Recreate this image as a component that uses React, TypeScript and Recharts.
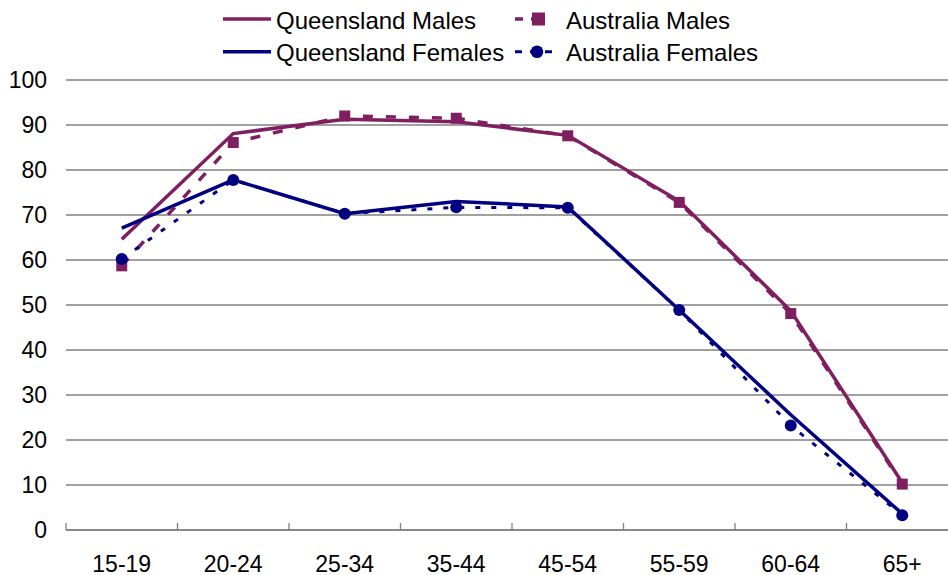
import React from "react";
import {
  CartesianGrid,
  Legend,
  Line,
  LineChart,
  XAxis,
  YAxis,
} from "recharts";

const ageGroups = ["15-19", "20-24", "25-34", "35-44", "45-54", "55-59", "60-64", "65+"];
const qldMales = [64.6, 88.1, 91.3, 90.7, 87.7, 73.1, 48.7, 10.5];
const ausMales = [58.7, 86.1, 92.0, 91.5, 87.6, 72.8, 48.1, 10.2];
const qldFemales = [67.1, 77.8, 70.3, 73.0, 71.8, 48.9, 25.6, 3.6];
const ausFemales = [60.2, 77.8, 70.3, 71.7, 71.6, 48.9, 23.2, 3.3];
const yTicks = [0, 10, 20, 30, 40, 50, 60, 70, 80, 90, 100];

const PURPLE = "#7f1f5f";
const NAVY = "#000080";
const GRID = "#808080";
const FONT = '"Liberation Sans", Arial, sans-serif';
const HALF_BAND = 55.75;
const TICK_MARGIN = 20;

const data = ageGroups.map((age, i) => ({
  age,
  qldMales: qldMales[i],
  ausMales: ausMales[i],
  qldFemales: qldFemales[i],
  ausFemales: ausFemales[i],
}));

const SquareDot = (props: any) => {
  const { cx, cy, index } = props;
  if (cx == null || cy == null) return null;
  return (
    <rect key={`sq-${index}`} x={cx - 5.5} y={cy - 5.5} width={11} height={11} fill={PURPLE} />
  );
};

// Excel style: label under the group, small tick mark on the boundary to its left
const AgeTick = (props: any) => {
  const { x, y, payload } = props;
  const axisY = y - TICK_MARGIN;
  const edge = x - HALF_BAND;
  return (
    <g>
      <line x1={edge} y1={axisY} x2={edge} y2={axisY - 7} stroke={GRID} strokeWidth={1.3} />
      <text x={x} y={axisY + 41.5} textAnchor="middle" fontSize={23} fontFamily={FONT} fill="#000">
        {payload.value}
      </text>
    </g>
  );
};

const ChartLegend = () => (
  <svg width={948} height={70} style={{ display: "block" }}>
    <g fontFamily={FONT} fontSize={24} fill="#000">
      {/* row 1 */}
      <line x1={223} y1={19} x2={271} y2={19} stroke={PURPLE} strokeWidth={3.5} />
      <text x={276} y={28.5}>Queensland Males</text>
      <line x1={515} y1={19} x2={540} y2={19} stroke={PURPLE} strokeWidth={3.5} strokeDasharray="8 8" />
      <rect x={532} y={12.5} width={13} height={13} fill={PURPLE} />
      <text x={566} y={28.5}>Australia Males</text>
      {/* row 2 */}
      <line x1={223} y1={51.7} x2={271} y2={51.7} stroke={NAVY} strokeWidth={3.5} />
      <text x={276} y={61.3}>Queensland Females</text>
      <line x1={515} y1={51.7} x2={552} y2={51.7} stroke={NAVY} strokeWidth={3} strokeDasharray="7 8" />
      <circle cx={537} cy={51.7} r={6.3} fill={NAVY} />
      <text x={566} y={61.3}>Australia Females</text>
    </g>
  </svg>
);

export default function App() {
  return (
    <div
      style={{
        position: "absolute",
        top: 0,
        left: 0,
        width: 948,
        height: 575,
        overflow: "hidden",
        background: "#fff",
        fontFamily: FONT,
      }}
    >
      <LineChart
        width={960}
        height={575}
        data={data}
        margin={{ top: 80, right: 2, bottom: 0, left: 0 }}
      >
        <CartesianGrid vertical={false} stroke={GRID} strokeWidth={1.3} />
        <XAxis
          dataKey="age"
          interval={0}
          height={45}
          padding={{ left: HALF_BAND, right: HALF_BAND }}
          tickLine={false}
          tickSize={0}
          tickMargin={TICK_MARGIN}
          axisLine={{ stroke: GRID, strokeWidth: 1.3 }}
          tick={AgeTick}
        />
        <YAxis
          domain={[0, 100]}
          ticks={yTicks}
          width={66}
          axisLine={false}
          tickLine={false}
          tickSize={0}
          tickMargin={19}
          tick={{ fontSize: 23, fill: "#000", fontFamily: FONT }}
        />
        <Line
          dataKey="qldMales"
          name="Queensland Males"
          stroke={PURPLE}
          strokeWidth={3.5}
          dot={false}
          isAnimationActive={false}
        />
        <Line
          dataKey="qldFemales"
          name="Queensland Females"
          stroke={NAVY}
          strokeWidth={3.5}
          dot={false}
          isAnimationActive={false}
        />
        <Line
          dataKey="ausMales"
          name="Australia Males"
          stroke={PURPLE}
          strokeWidth={3.5}
          strokeDasharray="10 13"
          dot={SquareDot}
          isAnimationActive={false}
        />
        <Line
          dataKey="ausFemales"
          name="Australia Females"
          stroke={NAVY}
          strokeWidth={3}
          strokeDasharray="5 11"
          dot={{ r: 6, fill: NAVY, stroke: "none" }}
          isAnimationActive={false}
        />
        <Legend
          layout="vertical"
          align="center"
          verticalAlign="middle"
          wrapperStyle={{ top: 0, left: 0, width: 948, height: 70 }}
          content={() => <ChartLegend />}
        />
      </LineChart>
    </div>
  );
}
